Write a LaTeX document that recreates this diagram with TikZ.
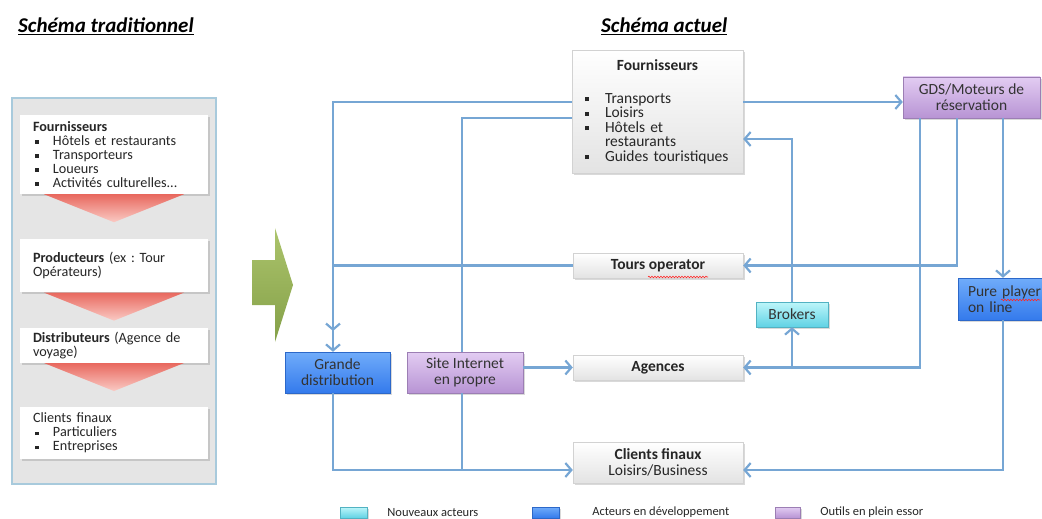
\documentclass[tikz,border=0pt]{standalone}
\usepackage{fontspec}
\setmainfont{Carlito}
\usepackage{tikz}
\usetikzlibrary{shapes.geometric,arrows.meta,positioning,shadows,decorations.pathmorphing}

\definecolor{bleulien}{RGB}{118,166,212}
\definecolor{gristrad}{RGB}{229,229,229}
\definecolor{bordtrad}{RGB}{168,202,220}
\definecolor{violetclair}{RGB}{226,204,242}
\definecolor{violetfonce}{RGB}{184,148,212}
\definecolor{bleuclair}{RGB}{112,172,250}
\definecolor{bleufonce}{RGB}{52,122,236}
\definecolor{cyanclair}{RGB}{190,246,250}
\definecolor{cyanfonce}{RGB}{96,210,228}
\definecolor{rougefonce}{RGB}{232,104,94}
\definecolor{rougeclair}{RGB}{250,202,196}
\definecolor{vertclair}{RGB}{172,196,108}
\definecolor{vertfonce}{RGB}{132,160,72}

% puces carrees
\newcommand{\puceG}[1]{\hspace*{2pt}\makebox[18pt][l]{\rule[1.8pt]{3.5pt}{3.5pt}}#1}
\newcommand{\puceD}[1]{\makebox[20pt][l]{\rule[2pt]{4pt}{4pt}}#1}

\begin{document}
\frenchspacing
\begin{tikzpicture}[x=1pt, y=-1pt,
        font=\fontsize{14.2}{14}\selectfont,
        ombre/.style={drop shadow={opacity=0.3, shadow xshift=1.5pt, shadow yshift=-2pt}},
        panneau/.style={draw=bordtrad, line width=1.2pt, fill=gristrad, minimum width=204pt, minimum height=386pt},
        etape/.style={fill=white, ombre, minimum width=188pt, text width=162pt, inner xsep=13pt, align=left, text=black!85},
        gris/.style={draw=gray!35, top color=white, bottom color=gray!22, ombre, minimum width=170pt, font=\fontsize{15.5}{16}\selectfont, text=black!85},
        violet/.style={draw=violetfonce!85!black, top color=violetclair, bottom color=violetfonce, ombre, font=\fontsize{15.5}{16}\selectfont, text=black!80},
        bleu/.style={draw=bleufonce!85!black, top color=bleuclair, bottom color=bleufonce, ombre, font=\fontsize{15.5}{16}\selectfont, text=black!80},
        cyanbox/.style={draw=cyanfonce!85!black, top color=cyanclair, bottom color=cyanfonce, ombre, font=\fontsize{15.5}{16}\selectfont, text=black!80},
        liaison/.style={draw=bleulien, line width=2.2pt},
        fleche/.style={liaison, -{Straight Barb[length=6pt, width=14pt, line width=2.2pt]}},
        chevron/.style={top color=rougefonce, bottom color=rougeclair},
        titre/.style={font=\fontsize{21}{24}\selectfont\bfseries\itshape, anchor=base west, inner sep=0pt},
        legende/.style={font=\fontsize{12.5}{13}\selectfont, inner sep=0pt, text=black!85},
        souligne/.style={draw=red!85, line width=0.6pt, decorate, decoration={snake, amplitude=0.8pt, segment length=3pt}}
    ]
    \useasboundingbox (0,0) rectangle (1042,519);
    % Titres
    \node[titre] (titreG) at (18,33) {\underline{Schéma traditionnel}};
    \node[titre] (titreD) at (601,33) {\underline{Schéma actuel}};
    % Schema traditionnel
    \node[panneau] (trad) at (114,291) {};
    \node[etape, minimum height=79pt] (fourG) at (114,154.5) {\textbf{Fournisseurs}\\ \puceG{Hôtels et restaurants}\\ \puceG{Transporteurs}\\ \puceG{Loueurs}\\ \puceG{Activités culturelles...}};
    \node[etape, minimum height=53pt, below=45pt of fourG] (prodG) {\textbf{Producteurs} (ex : Tour\\Opérateurs)};
    \node[etape, minimum height=35pt, below=35pt of prodG] (distG) {\textbf{Distributeurs} (Agence de\\voyage)};
    \node[etape, minimum height=52pt, below=44pt of distG] (cliG) {Clients finaux\\ \puceG{Particuliers}\\ \puceG{Entreprises}};
    \foreach \n in {fourG, prodG, distG}
        \shade[chevron] ([xshift=-70pt]\n.south) -- ([xshift=70pt]\n.south) -- ([yshift=-28pt]\n.south) -- cycle;
    % Fleche verte
    \shade[top color=vertclair, bottom color=vertfonce] (252,260) -- (275,260) -- (275,228) -- (293,285) -- (275,342) -- (275,305) -- (252,305) -- cycle;
    % Schema actuel
    \node[gris, text width=145pt, minimum height=123pt, inner xsep=13pt, font=\fontsize{15.5}{14.5}\selectfont] (fourD) at (657.5,111.5)
        {\centering\textbf{Fournisseurs}\par\vspace{18.5pt}\raggedright
         \puceD{Transports}\\ \puceD{Loisirs}\\ \puceD{Hôtels et}\\ \hspace*{20pt}restaurants\\ \puceD{Guides touristiques}};
    \node[violet, minimum width=137pt, minimum height=41pt, align=center] (gds) at (971.5,97.5) {GDS/Moteurs de\\réservation};
    \node[gris, minimum height=25pt] (tours) at (658,265.5) {\textbf{Tours operator}};
    \node[gris, minimum height=25pt] (agences) at (658,367.5) {\textbf{Agences}};
    \node[gris, minimum height=41pt, align=center] (clients) at (658,462.5) {\textbf{Clients finaux}\\Loisirs/Business};
    \node[bleu, minimum width=105pt, minimum height=41pt, align=center] (grande) at (337.5,372.5) {Grande\\distribution};
    \node[violet, minimum width=116pt, minimum height=41pt, align=center] (site) at (465,372.5) {Site Internet\\en propre};
    \node[bleu, minimum height=42pt, text width=80pt, inner xsep=10pt, align=left] (pure) at (1008,299) {Pure player\\on line};
    \node[cyanbox, minimum width=72pt, minimum height=25pt] (brokers) at (792,314.5) {Brokers};
    % Points de passage
    \coordinate (k1) at (333,102);
    \coordinate (k1b) at (333,331);
    \coordinate (k2) at (462,118);
    \coordinate (k3) at (333,470);
    \coordinate (k5) at (920,367);
    \coordinate (k6) at (792,367);
    \coordinate (k7) at (792,139);
    \coordinate (k8) at (957,266);
    \coordinate (k9) at (1003,299);
    % Liaisons
    \draw[fleche] (k1 -| fourD.west) -- (k1) -- (grande.north -| k1);
    \draw[fleche] (tours.west) -| (k1b);
    \draw[liaison] (k2 -| fourD.west) -- (k2) -- (site.north -| k2);
    \draw[liaison] (site.south -| k2) -- (k2 |- k3);
    \draw[fleche] (grande.south -| k3) -- (k3) -- (k3 -| clients.west);
    \draw[fleche] (site.east |- agences.west) -- (agences.west);
    \draw[fleche] (k1 -| fourD.east) -- (k1 -| gds.west);
    \draw[fleche] (gds.south -| k5) |- (agences.east);
    \draw[fleche] (k6) -- (brokers.south);
    \draw[fleche] (brokers.north) -- (k7) -- (k7 -| fourD.east);
    \draw[fleche] (gds.south -| k8) |- (tours.east);
    \draw[fleche] (gds.south -| k9) -- (pure.north -| k9);
    \draw[fleche] (pure.south -| k9) -- (k9 |- k3) -- (k3 -| clients.east);
    % Soulignes du correcteur
    \draw[souligne] (648,277) -- (708,277);
    \draw[souligne] (1001,300) -- (1040,300);
    % Legende
    \node[cyanbox, minimum width=27pt, minimum height=11pt, inner sep=0pt] (legN) at (353.5,512.5) {};
    \node[legende, right=20pt of legN] (txtN) {Nouveaux acteurs};
    \node[bleu, minimum width=27pt, minimum height=11pt, inner sep=0pt] (legD) at (545.5,512.5) {};
    \node[legende, right=33pt of legD] (txtD) {Acteurs en développement};
    \node[violet, minimum width=25pt, minimum height=11pt, inner sep=0pt] (legO) at (787.5,512.5) {};
    \node[legende, right=20pt of legO] (txtO) {Outils en plein essor};
\end{tikzpicture}
\end{document}
